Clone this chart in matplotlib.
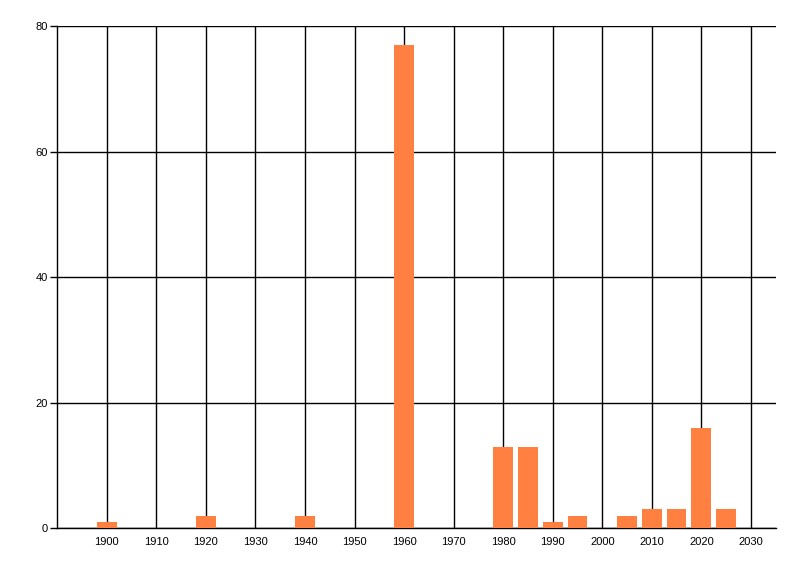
import matplotlib
matplotlib.use("Agg")
import matplotlib.pyplot as plt

years = [1900, 1920, 1940, 1960, 1980, 1985, 1990, 1995, 2005, 2010, 2015, 2020, 2025]
counts = [1, 2, 2, 77, 13, 13, 1, 2, 2, 3, 3, 16, 3]
x_ticks = list(range(1900, 2031, 10))
y_ticks = [0, 20, 40, 60, 80]

plt.rcParams['font.family'] = ['Liberation Sans', 'DejaVu Sans']

fig = plt.figure(figsize=(8, 5.76), dpi=100)
ax = fig.add_axes([0.0716, 0.0828, 0.9696 - 0.0716, 0.9543 - 0.0828])

ax.bar(years, counts, width=4, color='#FF8040', zorder=3)

ax.set_xlim(1890, 2035)
ax.set_ylim(0, 80)
ax.set_xticks(x_ticks)
ax.set_yticks(y_ticks)
ax.grid(True, color='black', linewidth=1, zorder=0)
ax.set_axisbelow(True)

for s in ['top', 'right']:
    ax.spines[s].set_visible(False)
for s in ['left', 'bottom']:
    ax.spines[s].set_linewidth(1)
    ax.spines[s].set_color('black')

ax.tick_params(axis='x', length=0, pad=6, labelsize=8)
ax.tick_params(axis='y', length=5, width=1, pad=2, labelsize=8)

fig.savefig('out.png', dpi=100)
